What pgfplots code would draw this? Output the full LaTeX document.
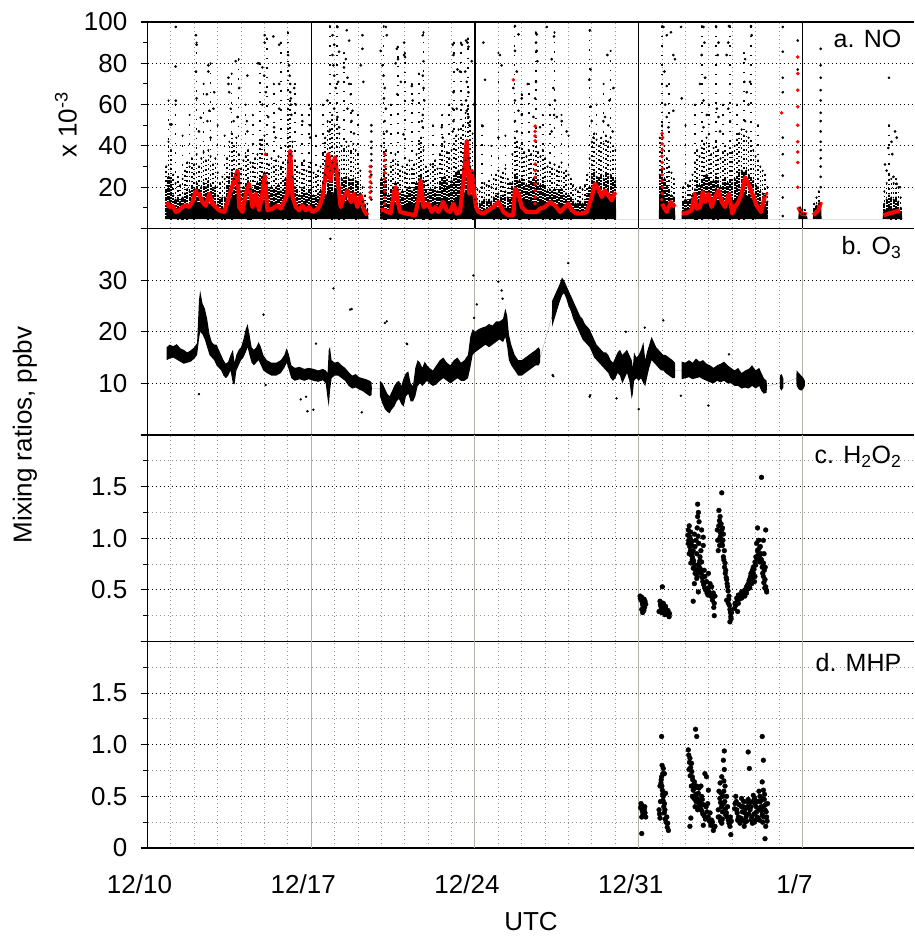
\documentclass[border=0pt]{standalone}
\usepackage{fontspec}
\setmainfont{Liberation Sans}
\usepackage{pgfplots}
\usepackage{pgfplotstable}
\pgfplotsset{compat=1.18}

\definecolor{majgray}{RGB}{178,178,168}
\definecolor{mingray}{RGB}{150,150,140}

% ---------- NO: solid lower cloud (outline down to 4.5), x = days since 12/10 ----------
\pgfplotstableread{
x hi
0.80 4.5
0.82 12
0.95 14
1.05 11
1.15 9.2
1.30 9.7
1.45 9.2
1.60 11
1.75 12
1.90 12.5
2.05 14
2.20 12
2.35 12.5
2.50 13.6
2.65 12
2.80 12.5
2.95 11
3.10 9.2
3.25 9.7
3.40 12
3.55 15.2
3.70 16.3
3.85 14
4.00 11
4.15 12
4.30 13.6
4.45 12
4.60 12.5
4.75 14
4.90 15.2
5.05 12
5.20 11
5.35 12
5.50 12.5
5.65 11
5.80 12
5.95 16.3
6.05 20.7
6.15 15.2
6.30 12
6.45 11
6.60 9.7
6.75 12.5
6.90 11
7.00 12.5
7.15 9.7
7.30 11
7.45 12
7.60 15.2
7.75 19.6
7.90 16.3
8.00 18.5
8.10 19.6
8.25 15.2
8.40 12.5
8.55 14
8.70 13.6
8.85 12.5
9.00 13.6
9.15 9.7
9.30 8.1
9.43 7
9.45 4.5
9.95 4.5
9.97 11.4
10.10 10.3
10.25 8.1
10.40 11.4
10.55 12.5
10.70 11
10.85 11.4
11.00 11
11.20 12.5
11.40 11.4
11.55 13.6
11.70 12.5
11.85 11
12.00 11.4
12.20 12.5
12.40 11.4
12.60 14
12.80 13.6
13.00 12.5
13.15 14
13.30 16.3
13.45 15.2
13.60 18.5
13.75 17.4
13.90 16.3
14.00 8.6
14.15 8.1
14.30 8.6
14.50 9.7
14.70 8.6
14.90 10.3
15.10 9.7
15.30 10.3
15.50 8.6
15.65 15.2
15.80 16.3
15.95 14
16.10 13.6
16.30 14
16.50 12.5
16.70 12.5
16.90 13.6
17.10 11.4
17.30 12.5
17.50 11.4
17.70 12.5
17.90 11
18.10 9.7
18.30 8.6
18.50 8.1
18.70 8.6
18.90 12.5
19.00 17.4
19.15 19.1
19.30 16.3
19.45 18.5
19.60 16.3
19.75 17.4
19.90 15.2
20.02 14
20.04 4.5
21.86 4.5
21.88 16.3
22.00 18.5
22.15 13.6
22.30 11.4
22.45 10.3
22.55 9.2
22.57 4.5
22.83 4.5
22.85 8.6
23.00 9.7
23.20 9.2
23.35 11.4
23.50 14
23.65 12.5
23.80 13.6
23.95 15.2
24.10 12.5
24.25 14
24.40 13.6
24.55 11.4
24.70 13.6
24.85 12.5
25.00 13.6
25.15 14
25.30 16.3
25.45 17.4
25.60 16.3
25.75 15.2
25.90 14
26.05 12.5
26.20 11.4
26.35 10.3
26.50 9.2
26.52 4.5
27.82 4.5
27.84 7.5
27.95 6.4
28.10 6.1
28.20 5.9
28.22 4.5
28.44 4.5
28.46 6.4
28.60 7.5
28.72 9.2
28.80 10.3
28.82 4.5
31.43 4.5
31.45 8.1
31.60 9.7
31.75 10.3
31.90 9.2
32.05 8.6
32.25 7
32.27 4.5
}\NOcore

% ---------- NO: speckled cloud: dn = top of the dense part, sp = top of the thin part ----------
\pgfplotstableread{
x dn sp
0.8 18 30
0.9 25 42
1.0 23 38
1.1 16 26
1.2 14 22
1.3 15 25
1.4 13 21
1.5 15 24
1.6 17 28
1.7 19 32
1.8 18 30
1.9 20 34
2.0 19 31
2.1 22 36
2.2 18 30
2.3 20 34
2.4 22 37
2.5 20 33
2.6 23 38
2.7 21 35
2.8 19 31
2.9 20 34
3.0 16 27
3.1 14 22
3.2 15 25
3.3 15 24
3.4 20 34
3.5 25 42
3.6 27 46
3.7 24 40
3.8 26 44
3.9 22 36
4.0 18 29
4.1 20 33
4.2 21 35
4.3 23 38
4.4 19 32
4.5 18 30
4.6 20 34
4.7 22 36
4.8 24 41
4.9 25 43
5.0 27 45
5.1 22 36
5.2 19 31
5.3 20 34
5.4 18 30
5.5 20 33
5.6 21 35
5.7 18 29
5.8 19 32
5.9 24 40
6.0 32 55
6.1 36 62
6.2 25 42
6.3 20 33
6.4 18 30
6.5 16 27
6.6 19 31
6.7 20 33
6.8 17 28
6.9 18 30
7.0 19 32
7.1 16 27
7.2 15 25
7.3 17 28
7.4 18 30
7.5 22 36
7.6 26 44
7.7 30 52
7.8 28 48
7.9 32 55
8.0 29 50
8.1 31 53
8.2 27 46
8.3 24 40
8.4 23 38
8.5 25 42
8.6 24 40
8.7 22 37
8.8 24 41
8.9 23 38
9.0 22 36
9.1 17 28
9.2 13 20
9.3 11 16
9.4 9 12
10.0 24 40
10.1 27 46
10.2 23 38
10.3 16 26
10.4 18 30
10.5 20 33
10.6 22 36
10.7 19 31
10.8 17 28
10.9 18 30
11.0 16 27
11.1 19 31
11.2 20 33
11.3 18 29
11.4 19 31
11.5 22 36
11.6 24 41
11.7 26 44
11.8 23 38
11.9 18 30
12.0 17 28
12.1 19 31
12.2 18 30
12.3 20 33
12.4 18 29
12.5 22 36
12.6 24 40
12.7 25 42
12.8 22 37
12.9 20 34
13.0 23 38
13.1 24 41
13.2 27 45
13.3 28 48
13.4 26 44
13.5 29 50
13.6 33 56
13.7 34 58
13.8 30 52
13.9 27 46
14.0 14 22
14.1 12 19
14.2 12 18
14.3 13 20
14.4 14 22
14.5 13 21
14.6 14 23
14.7 13 20
14.8 15 24
14.9 16 26
15.0 17 28
15.1 15 25
15.2 16 27
15.3 18 29
15.4 15 24
15.5 14 22
15.6 22 36
15.7 26 44
15.8 25 42
15.9 23 39
16.0 24 41
16.1 22 37
16.2 21 35
16.3 23 38
16.4 22 36
16.5 24 40
16.6 25 42
16.7 22 37
16.8 21 35
16.9 23 38
17.0 20 34
17.1 18 30
17.2 19 32
17.3 18 29
17.4 19 31
17.5 17 28
17.6 18 30
17.7 19 32
17.8 16 27
17.9 17 28
18.0 16 26
18.1 15 24
18.2 13 21
18.3 12 19
18.4 12 18
18.5 13 20
18.6 12 19
18.7 13 21
18.8 16 26
18.9 20 34
19.0 25 42
19.1 27 46
19.2 25 43
19.3 24 40
19.4 26 44
19.5 24 41
19.6 27 45
19.7 25 42
19.8 26 44
19.9 24 40
20.0 23 38
21.9 26 44
22.0 29 50
22.1 24 40
22.2 20 34
22.3 18 30
22.4 16 27
22.5 15 24
22.9 13 20
23.0 14 22
23.1 13 21
23.2 14 23
23.3 16 26
23.4 19 32
23.5 23 38
23.6 21 35
23.7 23 39
23.8 24 41
23.9 26 44
24.0 24 40
24.1 22 36
24.2 23 39
24.3 25 42
24.4 23 38
24.5 20 34
24.6 22 37
24.7 24 40
24.8 22 36
24.9 23 39
25.0 22 37
25.1 24 40
25.2 25 43
25.3 27 46
25.4 28 48
25.5 27 45
25.6 28 47
25.7 26 44
25.8 24 40
25.9 23 38
26.0 21 35
26.1 20 33
26.2 18 30
26.3 17 28
26.4 16 26
26.5 13 20
27.9 8 10
28.0 7 9
28.1 7 9
28.5 9 12
28.6 11 15
28.7 12 18
31.5 12 18
31.6 14 22
31.7 16 26
31.8 15 24
31.9 14 22
32.0 15 24
32.1 13 20
32.2 10 15
}\NOspeck

% ---------- NO: thin columns of high readings ----------
\pgfplotstableread{
x lo hi
0.9 40 62
1.2 25 60
1.5 24 45
1.8 30 55
2.1 36 90
2.4 37 70
2.7 35 80
3.0 27 50
3.3 24 45
3.6 46 75
3.9 36 82
4.2 35 60
4.5 30 55
4.8 41 80
5.1 36 92
5.4 30 70
5.7 29 90
6.0 55 95
6.3 33 70
6.6 31 55
6.9 30 60
7.2 25 45
7.5 36 60
7.8 48 98
8.1 53 98
8.4 38 85
8.7 37 70
9.0 36 55
10.1 46 98
10.4 30 60
10.7 31 88
11.0 27 85
11.3 29 70
11.6 41 75
11.8 38 95
12.2 30 50
12.6 40 55
12.9 34 60
13.1 41 90
13.4 44 90
13.7 58 92
14.3 20 50
14.7 20 40
15.0 28 85
15.3 29 45
15.7 44 98
16.0 41 65
16.3 38 70
16.6 42 95
16.9 38 55
17.2 32 60
17.4 31 95
17.7 32 55
18.0 26 45
18.9 34 96
19.2 43 60
19.5 41 70
19.8 44 86
22.0 50 98
22.3 30 70
23.0 22 50
23.4 32 60
23.7 39 98
24.0 40 60
24.3 42 98
24.6 37 60
24.9 39 98
25.2 43 60
25.5 45 85
25.8 40 98
26.1 33 50
31.7 26 50
}\NOcols

% ---------- NO: individual high readings ----------
\pgfplotstableread{
x y
1.21 97.6
1.20 78.4
1.21 61.9
0.97 50.4
1.03 50.4
2.07 93.6
2.10 89
2.07 76
2.10 63
2.28 53.6
2.20 47
2.60 79
2.60 76
2.54 65
2.64 57
2.56 52
2.85 66
2.82 58
2.70 44
3.46 73
3.46 70
3.49 66
3.77 81
3.56 58
3.85 54
3.68 52
3.92 68
4.27 74
4.25 52
4.27 47
4.73 80
4.91 78
5.01 93.6
5.01 90
5.38 93
5.63 89
4.99 74
5.06 66
4.91 60
5.16 54
5.63 70
5.63 58
5.41 49
5.48 44
6.01 84
6.05 79
6.08 74
6.10 70
6.10 66
6.13 63
6.13 60
6.15 55
6.27 68
6.34 60
6.62 52
6.98 58
6.95 50
6.95 44
7.91 93.6
8.12 97.6
7.98 89
8.19 85.6
7.91 84
7.95 79
7.98 74
8.15 71
8.05 68
7.69 62
7.98 58
8.12 54
8.19 49
7.76 47
8.52 96
8.62 91
8.48 82
8.40 78
8.55 73
8.62 70
8.69 65
8.55 58
8.76 57
8.72 52
8.83 46
9.19 93.6
9.19 87
9.23 71
9.12 79
9.57 50
9.57 47
9.57 42
9.57 39
9.57 36
9.57 33
9.57 30
9.57 26
9.57 22
9.57 18
9.57 14
9.97 86
10.19 97.6
10.23 93.6
10.04 79
10.09 74
10.14 68
10.11 63
10.19 58
10.14 52
10.23 47
10.66 87
10.71 82
10.61 80
10.97 84
10.83 71
10.68 65
10.97 90
11.30 69
11.34 62
11.01 83
10.94 45.6
11.77 93.6
11.80 81
11.77 74
11.80 68
11.83 62
11.77 55
11.73 52
11.77 49
12.58 49
12.62 44
13.05 89
13.08 84
13.44 89
13.25 77
13.08 66
13.05 58
13.08 52
13.05 47
13.62 91
13.68 90
13.72 88
13.58 76
13.65 71
13.72 66
13.62 62
13.65 57
13.72 54
13.76 50
13.36 76
13.44 60
13.22 58
13.86 81
13.96 60
14.36 90
14.43 72
14.33 49.6
15.00 44
15.07 84
15.14 79
15.71 98
15.86 94
15.71 86
15.79 76
15.64 68
15.71 62
15.86 57
15.71 52
15.79 47
16.00 63
16.00 55
16.26 70
16.50 54
16.64 94
16.61 90
16.64 86
16.67 81
16.61 71
16.57 63
16.78 49
17.07 97.6
17.38 93
17.28 82
17.35 68
17.42 62
17.38 55
17.28 47
17.50 54
17.71 52
17.92 47
18.92 96
18.95 77
18.89 72
18.95 59
18.99 52
19.06 44
19.66 84
19.92 68
19.75 62
19.56 54
19.49 52
19.70 50
19.89 47
22.06 97.6
22.20 93.6
22.38 95
22.48 84
22.55 82
22.10 76
22.20 69
22.13 60
22.20 54
22.27 49
22.48 57
22.81 97.6
22.84 63
23.77 97.6
23.81 90
23.69 84
23.62 70
23.84 73
23.77 62
23.91 55
23.77 49
24.31 97.6
24.41 90
24.38 84
24.34 58
24.41 54
24.48 47
24.86 98
24.83 90
24.76 84
24.83 58
24.91 52
25.55 82
25.52 71
25.62 66
25.69 60
25.55 52
25.83 93.6
25.80 98
25.76 71
27.16 97.6
27.16 85.6
27.16 73
27.16 66
27.16 44
27.16 36
27.16 25.6
27.16 15
27.16 6
27.80 91
27.80 77
28.78 87
28.78 79
28.78 73
28.78 67
28.78 62
28.78 56
28.78 52
28.78 47
28.78 42
28.78 38
28.78 34
28.78 30
28.78 25
28.78 20
31.70 73
31.96 47
32.03 44
31.81 42
31.67 39
31.84 36
31.53 31
31.89 25
32.03 21.6
31.60 28
32.17 20
}\NOpts

% ---------- NO: running mean ----------
\pgfplotstableread{
x y
0.83 12.8
0.93 10.4
1.07 11
1.21 8
1.35 8.8
1.50 10.4
1.64 11.2
1.78 10.4
1.92 12.8
2.07 18.4
2.21 16.8
2.35 12.8
2.49 11
2.64 16.8
2.78 12
2.92 10.4
3.06 8.8
3.28 8
3.42 12.8
3.56 18.4
3.73 24
3.85 28
3.92 10.4
4.06 8
4.20 16.8
4.34 21.6
4.49 10.4
4.63 16.8
4.77 8.8
4.91 16.8
5.01 25.6
5.13 8.8
5.34 9.6
5.56 11.2
5.70 9.6
5.84 12.8
5.98 16.8
6.10 37.6
6.20 15.2
6.34 10.4
6.48 8.8
6.62 11.2
6.77 8.8
6.91 10.4
7.05 8
7.19 8.8
7.34 10.4
7.48 15.2
7.62 26.4
7.73 36
7.83 23.2
7.93 31.2
8.02 34.4
8.12 24.8
8.26 10.4
8.40 15.2
8.55 18.4
8.69 12.8
8.83 16.8
8.97 10.4
9.12 16
9.26 8.8
9.40 6.4
9.45 nan
9.97 8.8
10.10 9
10.25 8
10.40 7.5
10.55 18
10.62 20
10.72 12
10.80 8
11.08 7.2
11.44 6.4
11.58 13.6
11.68 23.2
11.80 10.4
12.01 12
12.15 8
12.30 10.4
12.44 8
12.65 12.8
12.79 8.8
12.94 8
13.08 12
13.22 7.2
13.36 8
13.51 23.2
13.65 42.4
13.76 16.8
13.86 28
13.93 20
14.05 10.4
14.15 8
14.36 7.2
14.57 8.8
14.79 10.4
15.00 12.8
15.22 8
15.43 6.4
15.64 6.4
15.71 19.2
15.86 16.8
16.00 10.4
16.21 8
16.43 8
16.64 8
16.78 9.6
16.99 10.4
17.21 12.8
17.42 11.2
17.64 8
17.85 10.4
17.99 12
18.14 8.8
18.35 7.2
18.56 7.2
18.78 8
18.99 15.2
19.13 21.6
19.28 19.2
19.42 15.2
19.56 18.4
19.70 16
19.85 13.6
19.99 17.6
20.10 nan
22.00 12
22.07 10.4
22.20 8
22.37 12.8
22.55 10.4
22.70 nan
22.84 7.2
23.05 7.5
23.27 8.8
23.38 16.8
23.48 9.6
23.62 10.4
23.74 17.6
23.84 12.8
23.98 16.8
24.12 10.4
24.26 15.2
24.41 18.4
24.55 12.8
24.69 10.4
24.86 16.8
25.00 7.2
25.12 10.4
25.26 12.8
25.40 16.8
25.55 24.8
25.69 21.6
25.86 16.8
26.04 11.2
26.23 8
26.40 16
26.60 nan
27.83 10.4
27.97 7.2
28.18 6.7
28.30 nan
28.47 6.4
28.68 8.8
28.79 12.8
29.00 nan
31.46 6.4
31.67 7.2
31.96 8
32.17 8.8
}\NOmean

% ---------- NO: isolated mean values ----------
\pgfplotstableread{
x y
9.52 15
9.52 17.5
9.52 20
9.52 22.5
9.52 25
9.52 27.5
9.52 30
10.14 12
10.14 15
10.14 18
10.14 21
10.14 24
10.14 27
10.14 30
10.14 33
10.14 36
5.04 36
15.64 72
16.57 49.6
16.57 47
16.57 44.8
16.57 42.4
16.57 31.2
16.57 28
16.57 24.8
16.57 21.6
16.57 18.4
16.57 15.2
16.57 12
21.98 14
22.00 17
22.01 20
21.99 23
22.00 26
22.02 29
22.00 32
21.99 35
22.01 38
22.00 41
22.02 44
22.00 46
26.47 16.8
27.11 56
27.80 83
27.80 75
27.80 67
27.80 59
27.80 50
27.80 42
27.80 37
27.80 32
27.80 20
}\NOred

% ---------- O3: band (lower edge / upper edge) ----------
\pgfplotstableread{
x lo hi
0.82 14.5 17.0
0.95 14.8 17.5
1.10 15.0 17.2
1.25 14.6 17.6
1.40 14.2 16.8
1.55 13.8 16.5
1.70 14.0 16.0
1.85 14.2 16.4
2.00 14.8 17.0
2.12 15.5 17.8
2.20 18.5 26.0
2.25 20.0 28.0
2.35 19.5 25.5
2.45 18.5 24.5
2.55 17.0 22.5
2.65 15.5 19.5
2.75 15.0 18.0
2.85 14.5 17.5
2.95 13.5 17.5
3.05 13.0 16.5
3.15 12.5 15.5
3.25 11.5 14.5
3.35 11.0 13.8
3.45 11.5 14.2
3.55 12.5 15.5
3.65 10.0 16.5
3.72 9.8 14.0
3.80 12.5 15.5
3.90 13.5 16.5
4.00 14.5 17.0
4.10 15.0 18.5
4.20 16.0 20.5
4.28 17.0 21.5
4.36 15.5 19.5
4.45 14.0 17.0
4.55 13.5 16.5
4.65 14.0 17.0
4.75 14.5 18.0
4.85 13.5 17.0
4.95 12.5 15.5
5.10 12.0 14.5
5.30 11.5 14.0
5.50 11.5 14.0
5.70 12.0 14.5
5.85 13.0 15.5
5.95 14.0 16.8
6.05 12.5 15.5
6.15 11.0 13.5
6.30 10.5 13.0
6.50 10.8 13.2
6.70 10.5 12.8
6.90 10.8 13.0
7.10 10.5 12.8
7.30 10.3 12.5
7.50 10.6 12.8
7.62 10.0 12.5
7.70 7.0 12.0
7.75 5.5 16.5
7.80 8.5 17.0
7.87 11.0 14.5
8.00 11.5 14.0
8.15 11.5 14.2
8.30 11.0 13.5
8.45 10.5 13.0
8.60 9.5 12.2
8.75 9.0 11.5
8.90 9.2 11.8
9.05 8.8 11.2
9.20 8.5 11.0
9.35 8.0 10.8
9.50 7.5 10.5
9.58 7.8 10.2
9.59 9.0 9.0
9.93 9.0 9.0
9.94 7.5 10.5
10.05 6.0 10.0
10.15 5.0 9.0
10.25 4.5 8.0
10.35 4.2 7.5
10.45 5.0 8.5
10.55 5.5 9.5
10.65 6.5 10.2
10.75 7.0 10.5
10.85 6.0 9.5
10.95 5.5 11.0
11.05 7.5 12.0
11.15 8.0 12.3
11.25 6.5 10.0
11.35 6.5 9.5
11.45 7.5 13.0
11.55 9.5 14.5
11.65 10.0 14.0
11.75 9.5 13.0
11.85 10.0 14.2
11.95 10.5 13.5
12.05 10.0 13.0
12.20 9.5 12.5
12.35 9.8 13.5
12.50 10.5 14.5
12.65 11.0 15.0
12.80 10.5 14.0
12.95 10.0 13.5
13.10 10.5 14.5
13.25 11.0 15.0
13.40 10.5 14.0
13.55 10.5 14.5
13.70 11.0 15.5
13.80 13.0 19.0
13.90 15.5 20.5
14.00 16.0 20.0
14.15 16.5 20.5
14.30 17.0 20.8
14.45 17.5 21.0
14.60 17.0 21.5
14.75 17.5 21.2
14.90 18.0 22.0
15.05 18.5 22.0
15.20 18.0 22.5
15.30 19.0 24.5
15.38 17.0 23.0
15.45 14.5 19.5
15.55 13.5 17.5
15.70 12.5 15.5
15.85 11.5 14.5
16.00 11.5 14.5
16.15 12.0 15.0
16.30 12.5 15.5
16.45 13.0 16.0
16.60 13.5 16.5
16.72 13.5 17.0
16.78 14.0 16.5
16.79 15.0 15.0
17.29 23.0 23.0
17.30 21.0 26.0
17.40 22.5 27.0
17.50 24.0 28.0
17.60 25.5 29.0
17.72 27.0 30.5
17.80 27.5 30.0
17.90 26.5 29.0
18.00 25.0 28.0
18.10 24.0 27.0
18.20 22.5 26.0
18.30 21.5 25.0
18.40 20.5 24.0
18.50 19.5 23.0
18.60 18.5 22.5
18.70 18.0 21.5
18.80 17.5 21.0
18.90 17.0 20.5
19.00 16.0 19.5
19.10 15.0 18.5
19.20 14.5 17.5
19.30 14.0 17.0
19.40 13.5 16.5
19.50 13.0 16.0
19.60 12.5 16.0
19.70 12.0 15.5
19.80 11.0 14.5
19.90 10.5 14.0
20.00 11.0 15.0
20.10 12.0 16.0
20.20 11.5 16.5
20.30 10.0 15.5
20.40 11.0 16.0
20.50 12.0 16.5
20.60 10.5 15.5
20.70 7.0 14.5
20.75 8.0 13.0
20.80 10.5 16.0
20.90 11.0 15.0
21.00 10.5 15.5
21.10 11.0 16.5
21.20 10.0 18.0
21.28 9.5 14.5
21.35 11.0 16.0
21.45 13.0 17.5
21.55 14.5 19.0
21.65 14.0 18.0
21.75 13.5 17.0
21.85 13.0 16.5
21.95 12.5 16.0
22.05 12.5 15.5
22.15 12.0 15.5
22.30 11.5 15.0
22.45 11.0 14.5
22.55 11.0 14.0
22.56 12.5 12.5
22.83 12.5 12.5
22.84 10.8 14.2
23.00 11.0 14.0
23.15 11.2 14.5
23.30 10.8 14.0
23.45 11.0 14.8
23.60 11.2 14.2
23.75 10.8 14.5
23.90 10.5 13.8
24.05 10.2 13.5
24.20 10.0 13.0
24.35 10.5 13.5
24.50 10.2 13.8
24.65 10.5 14.2
24.80 10.0 13.5
24.95 10.0 13.0
25.10 9.5 12.5
25.25 9.5 13.0
25.40 9.0 12.0
25.55 9.2 12.5
25.70 9.0 12.8
25.85 9.5 13.5
26.00 9.0 12.5
26.15 9.5 13.0
26.25 8.5 12.0
26.35 8.0 11.0
26.47 8.2 10.5
26.48 9.5 9.5
27.03 10.0 10.0
27.04 9.0 11.5
27.11 8.6 11.8
27.18 9.2 11.0
27.19 10.0 10.0
27.74 11.0 11.0
27.75 9.5 12.5
27.85 8.8 12.0
27.95 8.6 11.5
28.05 9.0 11.0
28.10 9.5 10.5
}\Othree

% ---------- O3: isolated readings ----------
\pgfplotstableread{
x y
2.20 7.9
4.96 23.3
5.05 9.7
6.55 6.9
6.78 7.4
6.84 4.6
7.09 4.9
7.20 17.7
7.82 38
7.95 28.4
8.66 24.3
8.73 24.4
9.16 4.4
10.15 21.7
10.23 22
11.08 17.7
11.10 17.6
13.93 30.9
13.96 22.7
14.08 25.3
15.00 29.7
15.14 28
15.18 26.4
17.32 11.6
17.35 11.4
17.99 33.3
18.90 7.4
18.92 7.7
20.05 7.1
20.45 20
21.00 5.0
21.26 20.8
22.05 22.2
22.80 7.6
23.98 5.7
24.86 15.6
}\Othreepts

% ---------- H2O2 ----------
\pgfplotstableread{
x y
21.06 0.44
21.10 0.40
21.16 0.37
21.20 0.34
21.13 0.31
21.27 0.39
21.30 0.36
21.17 0.28
21.07 0.42
21.23 0.41
21.12 0.43
21.18 0.35
21.25 0.33
21.15 0.39
21.22 0.30
22.01 0.53
21.91 0.39
21.95 0.34
22.05 0.37
22.10 0.31
22.15 0.34
22.20 0.29
22.27 0.26
22.30 0.24
21.87 0.29
21.98 0.28
22.12 0.26
21.93 0.36
22.03 0.32
22.08 0.35
22.18 0.31
22.22 0.27
22.25 0.30
22.32 0.27
21.96 0.31
23.52 1.33
23.55 1.25
23.52 1.21
23.58 1.16
23.12 1.08
23.19 1.01
23.12 0.95
23.26 0.93
23.33 0.88
23.41 0.92
23.48 0.85
23.62 0.82
23.69 1.08
23.76 1.01
23.29 0.82
23.23 0.76
23.33 0.71
23.41 0.66
23.48 0.61
23.38 0.56
23.55 0.48
23.33 0.39
23.69 0.77
23.80 0.69
23.83 0.63
23.90 0.58
23.98 0.66
24.05 0.56
24.12 0.53
24.19 0.47
24.15 0.40
24.23 0.37
24.26 0.44
24.23 0.25
23.76 0.93
23.66 0.88
23.16 0.85
23.29 0.79
23.59 0.72
23.76 0.63
23.98 0.52
23.10 1.03
23.14 0.98
23.18 0.92
23.21 0.88
23.24 0.84
23.27 0.86
23.31 0.80
23.35 0.78
23.39 0.74
23.43 0.70
23.46 0.66
23.50 0.63
23.53 0.68
23.57 0.75
23.61 0.78
23.64 0.70
23.67 0.66
23.71 0.62
23.74 0.58
23.78 0.55
23.82 0.52
23.86 0.50
23.92 0.47
23.96 0.45
24.01 0.48
24.08 0.44
24.17 0.43
24.21 0.33
23.50 1.10
23.54 1.02
23.57 0.95
23.45 0.98
23.38 1.04
23.22 1.06
23.16 1.12
23.28 0.97
24.55 1.44
24.43 1.27
24.48 1.21
24.52 1.14
24.55 1.08
24.48 1.01
24.62 1.04
24.55 0.95
24.40 0.88
24.66 0.88
24.62 0.82
24.69 0.76
24.72 0.69
24.76 0.60
24.80 0.53
24.86 0.44
24.83 0.37
24.90 0.31
24.94 0.24
24.90 0.19
24.97 0.28
24.76 0.40
24.36 1.08
24.38 0.98
24.45 1.17
24.50 1.05
24.53 0.99
24.58 0.93
24.60 0.98
24.64 0.79
24.67 0.72
24.70 0.66
24.74 0.62
24.78 0.56
24.82 0.49
24.85 0.41
24.88 0.35
24.92 0.28
24.95 0.22
24.58 1.10
24.42 1.12
24.46 0.93
25.12 0.37
25.19 0.42
25.26 0.45
25.33 0.44
25.40 0.48
25.47 0.47
25.54 0.50
25.61 0.53
25.68 0.56
25.76 0.61
25.80 0.66
25.86 0.69
25.90 0.72
25.97 0.77
26.01 0.82
26.08 0.88
26.14 0.90
26.04 0.95
26.23 0.85
26.25 0.79
26.33 0.76
26.37 0.69
26.40 0.60
26.43 0.53
26.47 0.48
26.33 0.63
26.18 0.77
26.08 1.10
26.43 1.08
26.25 1.59
26.33 0.98
25.26 0.37
25.40 0.42
25.61 0.47
25.83 0.56
25.97 0.63
25.54 0.44
25.68 0.51
25.90 0.66
25.09 0.32
25.23 0.29
25.15 0.35
25.22 0.40
25.30 0.41
25.37 0.45
25.44 0.44
25.50 0.48
25.58 0.50
25.65 0.54
25.72 0.59
25.78 0.63
25.84 0.64
25.93 0.70
26.00 0.74
26.06 0.80
26.11 0.84
26.16 0.82
26.21 0.80
26.28 0.72
26.30 0.66
26.35 0.57
26.39 0.52
26.45 0.50
26.41 0.72
26.36 0.85
26.20 0.92
26.13 0.98
25.95 0.58
25.75 0.52
25.85 0.60
}\HtwoOtwo

% ---------- MHP ----------
\pgfplotstableread{
x y
21.10 0.43
21.16 0.40
21.20 0.35
21.13 0.30
21.27 0.34
21.24 0.37
21.13 0.14
21.08 0.39
21.30 0.30
21.12 0.41
21.18 0.33
21.22 0.32
21.26 0.40
21.15 0.36
21.98 1.08
22.05 0.77
21.98 0.69
21.95 0.63
22.01 0.56
22.05 0.50
22.10 0.43
22.12 0.37
22.20 0.30
22.24 0.24
22.27 0.17
21.91 0.29
21.87 0.37
22.15 0.53
21.91 0.60
22.10 0.72
21.96 0.66
21.99 0.60
22.02 0.52
22.04 0.46
22.07 0.40
22.09 0.34
22.13 0.28
22.17 0.25
22.22 0.20
22.00 0.80
22.03 0.72
21.93 0.45
21.89 0.33
23.43 1.15
23.48 1.08
23.12 0.95
23.19 0.87
23.26 0.82
23.15 0.76
23.29 0.69
23.38 0.64
23.48 0.60
23.33 0.56
23.55 0.53
23.69 0.50
23.62 0.45
23.76 0.42
23.41 0.40
23.23 0.29
23.76 0.22
23.19 0.21
23.83 0.72
23.90 0.69
23.98 0.56
24.05 0.34
24.12 0.27
24.19 0.17
24.26 0.21
23.29 0.50
23.52 0.37
23.66 0.60
23.95 0.43
23.14 0.90
23.17 0.83
23.22 0.78
23.27 0.74
23.31 0.66
23.35 0.61
23.40 0.58
23.44 0.52
23.50 0.48
23.55 0.44
23.60 0.41
23.65 0.38
23.70 0.36
23.74 0.33
23.80 0.31
23.85 0.28
23.92 0.35
23.97 0.30
24.02 0.26
24.08 0.22
24.15 0.25
24.22 0.20
23.20 0.70
23.25 0.60
23.36 0.48
23.45 0.45
23.58 0.58
23.72 0.47
23.88 0.40
24.66 0.94
24.62 0.85
24.66 0.76
24.55 0.69
24.48 0.63
24.69 0.60
24.52 0.53
24.76 0.50
24.62 0.43
24.40 0.37
24.72 0.32
24.83 0.27
24.90 0.21
24.94 0.13
24.55 0.24
24.40 0.30
24.80 0.40
24.43 0.55
24.47 0.48
24.50 0.44
24.54 0.40
24.58 0.35
24.60 0.50
24.64 0.55
24.68 0.45
24.71 0.38
24.75 0.34
24.78 0.30
24.86 0.24
24.92 0.30
24.96 0.26
24.45 0.30
24.50 0.26
24.58 0.28
24.64 0.65
25.12 0.43
25.19 0.37
25.26 0.30
25.33 0.24
25.40 0.48
25.47 0.40
25.54 0.34
25.61 0.26
25.68 0.47
25.76 0.37
25.83 0.30
25.90 0.51
25.97 0.43
26.04 0.35
26.11 0.29
26.18 0.50
26.23 0.40
26.28 0.32
26.33 0.56
26.37 0.47
26.40 0.37
26.47 0.30
26.43 0.21
26.40 0.09
26.28 1.08
26.33 0.85
26.28 0.64
25.68 0.93
25.73 0.77
25.23 0.27
25.51 0.21
25.86 0.24
26.51 0.43
26.14 0.55
25.43 0.35
25.65 0.40
26.00 0.27
25.15 0.50
25.10 0.38
25.17 0.45
25.21 0.34
25.29 0.42
25.36 0.29
25.39 0.40
25.45 0.27
25.49 0.45
25.56 0.38
25.59 0.30
25.63 0.45
25.70 0.33
25.74 0.44
25.80 0.40
25.81 0.27
25.88 0.45
25.93 0.33
25.95 0.48
26.02 0.40
26.06 0.30
26.09 0.45
26.13 0.37
26.16 0.27
26.20 0.45
26.25 0.36
26.27 0.48
26.31 0.40
26.35 0.30
26.38 0.52
26.42 0.42
26.45 0.35
26.49 0.26
26.30 0.25
25.95 0.25
25.55 0.25
}\MHP

\pgfplotsset{
  panel/.style={
    scale only axis, width=766.5pt, height=206.5pt,
    xmin=0, xmax=32.77,
    axis x line=box, axis y line=left,
    axis line style={-, line width=1.3pt, black},
    xtick={0,7,14,21,28}, xticklabels={},
    minor x tick num=6,
    xminorgrids=true, xmajorgrids=false,
    extra x ticks={7,14,21,28}, extra x tick labels={},
    extra x tick style={grid=major, major tick length=0pt,
      major grid style={solid, line width=1pt, majgray}},
    xtick style={draw=none},
    ymajorgrids=true,
    major grid style={black, line width=1.1pt, dash pattern=on 1.1pt off 2.9pt},
    minor grid style={mingray, line width=0.9pt, dash pattern=on 1pt off 3pt},
    tick align=outside,
    ytick style={black, line width=1.1pt},
    major tick length=7pt, minor tick length=4.5pt,
    tick label style={font=\fontsize{26}{31}\selectfont},
    yticklabel style={inner sep=0pt, anchor=east, xshift=-13pt},
    unbounded coords=jump,
  },
  runs/.style 2 args={only marks, mark=*, mark size=0.8pt, black,
    error bars/.cd, y dir=minus, y explicit, error mark=none,
    error bar style={line width=#1, dash pattern=#2, black}},
}
\tikzset{plabel/.style={anchor=base east, font=\fontsize{25}{30}\selectfont}}

\begin{document}
\begin{tikzpicture}[font=\fontsize{26}{31}\selectfont]
\useasboundingbox (0,0) rectangle (914pt,936pt);

% a. NO
\begin{axis}[panel, at={(147.5pt,707.5pt)}, anchor=south west,
  ymin=0, ymax=100, ytick={0,20,...,100}, yticklabels={{},20,40,60,80,100},
  minor ytick={10,30,...,90},
  extra x tick style={grid=major, major tick length=0pt,
      major grid style={solid, line width=1.2pt, black}}]
  % thin upper part of the cloud
  \addplot[runs={1.6pt}{on 1.5pt off 3.0pt}]
    table[x=x, y=sp, y error minus expr=\thisrow{sp}-\thisrow{dn}]{\NOspeck};
  % dense part of the cloud
  \addplot[runs={2.2pt}{on 2.0pt off 0.7pt}]
    table[x=x, y=dn, y error minus expr=\thisrow{dn}-4.5]{\NOspeck};
  % sparse columns of high readings
  \addplot[runs={1.5pt}{on 1.5pt off 8pt}]
    table[x=x, y=hi, y error minus expr=\thisrow{hi}-\thisrow{lo}]{\NOcols};
  \addplot[fill=black, draw=none] table[x=x,y=hi]{\NOcore};
  \addplot[only marks, mark=*, mark size=1.15pt, black] table[x=x,y=y]{\NOpts};
  \addplot[red, line width=4.2pt, line join=round] table[x=x,y=y]{\NOmean};
  \addplot[only marks, mark=*, mark size=1.6pt, red] table[x=x,y=y]{\NOred};
  \node[plabel] at (rel axis cs:0.988,0.875) {a. NO};
\end{axis}

% b. O3
\begin{axis}[panel, at={(147.5pt,501pt)}, anchor=south west,
  ymin=0, ymax=40, ytick={0,10,...,40}, yticklabels={{},10,20,30,{}}]
  \addplot[stack plots=y, draw=none] table[x=x,y=lo]{\Othree};
  \addplot[stack plots=y, fill=black, draw=none]
    table[x=x,y expr=\thisrow{hi}-\thisrow{lo}]{\Othree} \closedcycle;
  \addplot[only marks, mark=*, mark size=1pt, black] table[x=x,y=y]{\Othreepts};
  \node[plabel] at (rel axis cs:0.988,0.875) {b. O\textsubscript{3}};
\end{axis}

% c. H2O2
\begin{axis}[panel, at={(147.5pt,294.5pt)}, anchor=south west,
  ymin=0, ymax=2, ytick={0,0.5,...,2}, yticklabels={{},0.5,1.0,1.5,{}},
  minor y tick num=1, yminorgrids=true]
  \addplot[only marks, mark=*, mark size=2.4pt, black] table[x=x,y=y]{\HtwoOtwo};
  \node[plabel] at (rel axis cs:0.988,0.86) {c. H\textsubscript{2}O\textsubscript{2}};
\end{axis}

% d. MHP
\begin{axis}[panel, at={(147.5pt,88pt)}, anchor=south west,
  ymin=0, ymax=2, ytick={0,0.5,...,2}, yticklabels={0,0.5,1.0,1.5,{}},
  minor y tick num=1, yminorgrids=true,
  xticklabels={12/10,12/17,12/24,12/31,1/7},
  xticklabel style={inner sep=0pt, anchor=north, yshift=-19pt, xshift=-8pt}]
  \addplot[only marks, mark=*, mark size=2.4pt, black] table[x=x,y=y]{\MHP};
  \node[plabel] at (rel axis cs:0.988,0.855) {d. MHP};
\end{axis}

% shared labels
\node[rotate=90] at (25pt,501pt) {Mixing ratios, ppbv};
\node[rotate=90] at (66pt,811pt) {x 10\textsuperscript{-3}};
\node at (531pt,14pt) {UTC};
\end{tikzpicture}
\end{document}
